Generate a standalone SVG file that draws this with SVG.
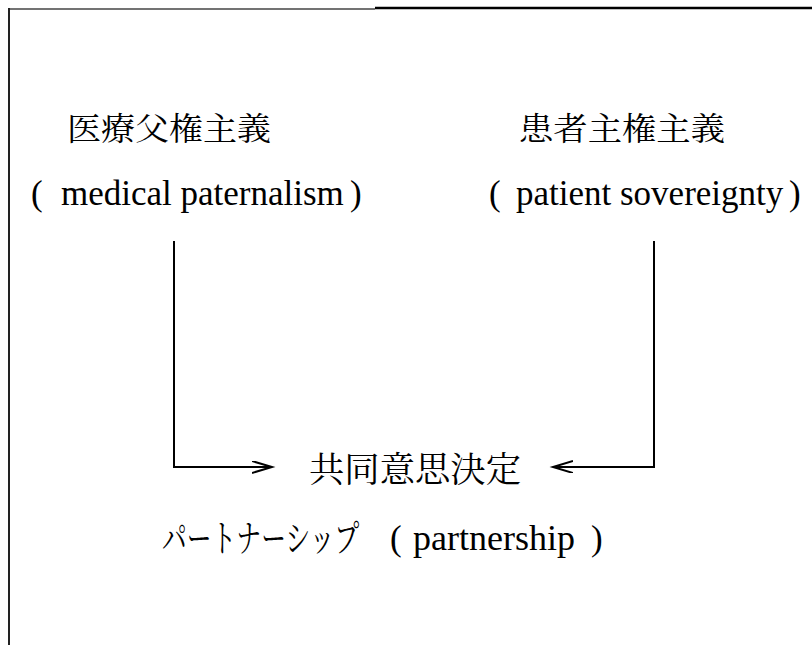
<svg xmlns="http://www.w3.org/2000/svg" width="812" height="645" viewBox="0 0 812 645">
<style>
.jp{font-family:"Noto Serif CJK JP","Noto Sans CJK JP",serif;font-size:32px;fill:#000}
.jb{font-family:"Noto Serif CJK JP","Noto Sans CJK JP",serif;font-size:35px;fill:#000}
.kn{font-family:"Noto Serif CJK JP","Noto Sans CJK JP",serif;font-size:37px;fill:#000}
.en{font-family:"Liberation Serif","Times New Roman",serif;font-size:35px;fill:#000}
.ln{fill:none;stroke:#000;stroke-width:2}
</style>
<defs>
<marker id="chev" markerUnits="userSpaceOnUse" markerWidth="24" markerHeight="16" refX="20" refY="6" orient="auto" viewBox="0 0 24 16">
<path d="M0,0 L20,6 L0,12" fill="none" stroke="#000" stroke-width="2"/>
</marker>
</defs>
<rect width="812" height="645" fill="#fff"/>
<g id="frame">
<line x1="8" y1="9" x2="375" y2="9" stroke="#444" stroke-width="1.5"/>
<line x1="375" y1="8" x2="812" y2="8" stroke="#000" stroke-width="2.5"/>
<line x1="9" y1="8" x2="9" y2="645" stroke="#222" stroke-width="2"/>
</g>
<g id="node-paternalism">
<text class="jp" x="67" y="140" textLength="204" lengthAdjust="spacingAndGlyphs">医療父権主義</text>
<text class="en" y="205"><tspan x="31">(</tspan><tspan x="61">medical paternalism</tspan><tspan x="350">)</tspan></text>
</g>
<g id="node-sovereignty">
<text class="jp" x="519" y="140" textLength="206" lengthAdjust="spacingAndGlyphs">患者主権主義</text>
<text class="en" y="205"><tspan x="489">(</tspan><tspan x="516">patient sovereignty</tspan><tspan x="789">)</tspan></text>
</g>
<g id="node-shared">
<text class="jb" x="309" y="482" textLength="212" lengthAdjust="spacingAndGlyphs">共同意思決定</text>
<text class="kn" transform="translate(162 552) scale(0.67 1)">パートナーシップ</text>
<text class="en" y="550"><tspan x="390">(</tspan><tspan x="413" font-size="36">partnership</tspan><tspan x="591">)</tspan></text>
</g>
<g id="connectors">
<path class="ln" d="M174,241 V467 H272" marker-end="url(#chev)"/>
<path class="ln" d="M654,241 V467 H553" marker-end="url(#chev)"/>
</g>
</svg>
